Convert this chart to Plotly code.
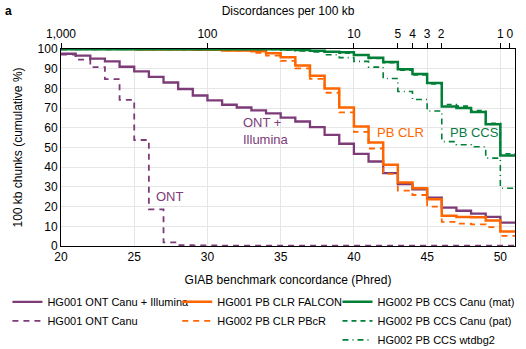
import plotly.graph_objects as go

# Phred bins (lower edge of each 1-Phred bin)
BINS_ALL = [20, 21, 22, 23, 24, 25, 26, 27, 28, 29, 30, 31, 32, 33, 34, 35,
            36, 37, 38, 39, 40, 41, 42, 43, 44, 45, 46, 47, 48, 49, 50]
BINS_FALCON = [25, 26, 27, 28, 29, 30, 31, 32, 33, 34, 35, 36, 37, 38, 39,
               40, 41, 42, 43, 44, 45, 46, 47, 48, 49, 50]
X_END = 51

ONT_ILLUMINA = [97.6, 96.6, 95.1, 93.7, 91.0, 88.6, 85.9, 83.0, 79.7, 76.4, 73.9,
                71.7, 70.3, 68.8, 67.3, 65.2, 63.2, 60.3, 56.4, 51.9, 46.8, 42.9,
                37.0, 31.4, 28.7, 24.5, 19.5, 17.9, 16.4, 14.8, 11.9]
ONT_CANU = [97.1, 94.6, 90.8, 84.7, 74.2, 53.8, 18.6, 1.8, 0.4, 0.3, 0.3,
            0.2, 0.2, 0.2, 0.2, 0.2, 0.2, 0.2, 0.2, 0.2, 0.2, 0.2,
            0.2, 0.2, 0.2, 0.2, 0.2, 0.2, 0.2, 0.2, 0.2]
CLR_FALCON = [99.8, 99.8, 99.7, 99.7, 99.6, 99.6, 99.3, 99.3, 98.8, 97.8, 95.8,
              91.6, 86.4, 80.0, 70.3, 60.6, 52.5, 41.2, 32.2, 29.3, 23.7, 15.3,
              14.7, 14.6, 13.0, 7.3]
CLR_PBCR = [99.8, 99.8, 99.8, 99.8, 99.8, 99.8, 99.8, 99.8, 99.8, 99.8, 99.8,
            99.3, 99.2, 98.0, 96.6, 94.0, 90.2, 84.8, 77.8, 67.8, 57.9, 49.5,
            36.6, 28.1, 25.9, 20.0, 12.2, 11.4, 11.0, 9.6, 5.1]
CCS_MAT = [99.9, 99.9, 99.9, 99.9, 99.9, 99.9, 99.9, 99.9, 99.9, 99.9, 99.9,
           99.9, 99.9, 99.9, 99.9, 99.8, 99.5, 99.1, 98.6, 98.3, 97.0, 95.5,
           93.4, 89.7, 87.3, 82.7, 70.8, 70.0, 68.0, 61.8, 46.0]
CCS_PAT = [99.9, 99.9, 99.9, 99.9, 99.9, 99.9, 99.9, 99.9, 99.9, 99.9, 99.9,
           99.9, 99.9, 99.9, 99.9, 99.7, 99.4, 99.0, 98.4, 97.9, 96.8, 95.2,
           93.0, 89.3, 86.8, 82.2, 71.8, 71.0, 68.8, 62.3, 46.8]
CCS_WTDBG2 = [99.8, 99.8, 99.8, 99.8, 99.8, 99.8, 99.8, 99.8, 99.8, 99.8, 99.8,
              99.8, 99.8, 99.8, 99.8, 99.5, 99.0, 98.5, 97.1, 95.6, 93.7, 90.8,
              85.0, 78.4, 74.4, 68.5, 53.0, 51.4, 50.4, 44.6, 29.3]

TOP_TICK_POS = [20, 30, 40, 43, 44, 45, 45.95, 50, 50.65]
TOP_TICK_TEXT = ["1,000", "100", "10", "5", "4", "3", "2", "1", "0"]

PURPLE = "#7d3b78"
ORANGE = "#ff6600"
GREEN = "#007f36"
FONT = "Liberation Sans, Arial, sans-serif"

fig = go.Figure()


def add(name, bins, vals, color, width, dash, legend, xaxis="x"):
    xs = list(bins) + [X_END]
    ys = list(vals) + [vals[-1]]
    fig.add_trace(go.Scatter(x=xs, y=ys, mode="lines", name=name,
                             line=dict(color=color, width=width, dash=dash, shape="hv"),
                             legend=legend, xaxis=xaxis, yaxis="y"))


add("HG001 ONT Canu + Illumina", BINS_ALL, ONT_ILLUMINA, PURPLE, 2.3, "solid", "legend")
add("HG001 ONT Canu", BINS_ALL, ONT_CANU, PURPLE, 1.8, "6px,5px", "legend", xaxis="x2")
add("HG002 PB CLR PBcR", BINS_ALL, CLR_PBCR, ORANGE, 1.8, "6px,5px", "legend2")
add("HG001 PB CLR FALCON", BINS_FALCON, CLR_FALCON, ORANGE, 2.5, "solid", "legend2")
add("HG002 PB CCS Canu (pat)", BINS_ALL, CCS_PAT, GREEN, 1.6, "5px,4px", "legend3")
add("HG002 PB CCS wtdbg2", BINS_ALL, CCS_WTDBG2, GREEN, 1.6, "6px,4px,1px,4px", "legend3")
add("HG002 PB CCS Canu (mat)", BINS_ALL, CCS_MAT, GREEN, 2.5, "solid", "legend3")

# legend ordering
ranks = {"HG001 ONT Canu + Illumina": 1, "HG001 ONT Canu": 2,
         "HG001 PB CLR FALCON": 1, "HG002 PB CLR PBcR": 2,
         "HG002 PB CCS Canu (mat)": 1, "HG002 PB CCS Canu (pat)": 2,
         "HG002 PB CCS wtdbg2": 3}
for tr in fig.data:
    tr.legendrank = ranks[tr.name]

annos = [
    dict(text="ONT", x=26.35, y=24.9, color=PURPLE),
    dict(text="ONT +<br>Illumina", x=32.3, y=58.5, color=PURPLE),
    dict(text="PB CLR", x=41.45, y=57.4, color=ORANGE),
    dict(text="PB CCS", x=46.4, y=57.8, color="#0a7a45"),
]
for a in annos:
    fig.add_annotation(x=a["x"], y=a["y"], xref="x", yref="y", text=a["text"],
                       showarrow=False, xanchor="left", yanchor="middle", align="left",
                       font=dict(family=FONT, size=13, color=a["color"]))

fig.add_annotation(x=0, y=1, xref="paper", yref="paper", text="<b>a</b>",
                   showarrow=False, xanchor="left", yanchor="top",
                   xshift=-58, yshift=47, font=dict(family=FONT, size=12, color="black"))

grid = "#e6e6e6"
legend_common = dict(orientation="v", xanchor="left", yanchor="top",
                     bgcolor="rgba(0,0,0,0)", font=dict(family=FONT, size=11, color="black"),
                     tracegroupgap=0, itemwidth=30, traceorder="normal")

fig.update_layout(
    width=526, height=349,
    margin=dict(l=61, r=11, t=49, b=103, autoexpand=False),
    plot_bgcolor="white", paper_bgcolor="white",
    font=dict(family=FONT, size=12, color="black"),
    showlegend=True,
    xaxis=dict(range=[20, X_END], tickvals=[20, 25, 30, 35, 40, 45, 50],
               showgrid=True, gridcolor=grid, gridwidth=1, zeroline=False,
               showline=True, linecolor="black", linewidth=1, ticks="",
               tickfont=dict(size=12), automargin=False,
               title=dict(text="GIAB benchmark concordance (Phred)", standoff=12,
                          font=dict(size=12))),
    xaxis2=dict(range=[20, X_END], overlaying="x", side="top", anchor="y",
                tickvals=TOP_TICK_POS, ticktext=TOP_TICK_TEXT,
                ticks="outside", ticklen=5, tickcolor="black", tickwidth=1,
                showgrid=False, zeroline=False, showline=True, linecolor="black",
                linewidth=1, tickfont=dict(size=12), automargin=False,
                title=dict(text="Discordances per 100 kb", standoff=9,
                           font=dict(size=12))),
    yaxis=dict(range=[0, 100], dtick=10, showgrid=True, gridcolor=grid,
               zeroline=False, showline=True, mirror=True, linecolor="black",
               linewidth=1, ticks="", tickfont=dict(size=12), automargin=False,
               title=dict(text="100 kb chunks (cumulative %)", standoff=12,
                          font=dict(size=12))),
    legend=dict(x=-0.118, y=-0.21, **legend_common),
    legend2=dict(x=0.256, y=-0.21, **legend_common),
    legend3=dict(x=0.609, y=-0.21, **legend_common),
)

fig.write_html("out.html")
